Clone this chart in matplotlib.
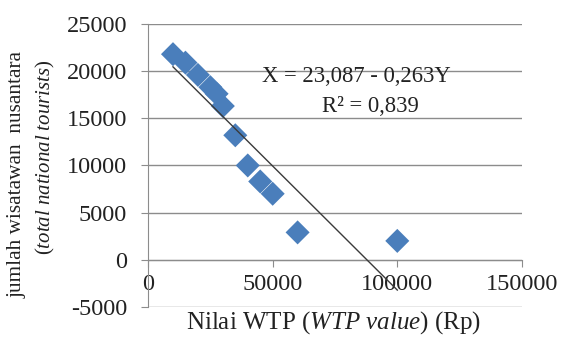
import numpy as np
import matplotlib
matplotlib.use('Agg')
import matplotlib.pyplot as plt

# data
wtp = [10000, 15000, 20000, 25000, 27500, 30000, 35000, 40000, 45000, 50000, 60000, 100000]
tourists = [21800, 20900, 19600, 18300, 17600, 16300, 13200, 10000, 8300, 7000, 2900, 2000]

intercept = 23087
slope = -0.263
x_ticks = [0, 50000, 100000, 150000]
y_ticks = [-5000, 0, 5000, 10000, 15000, 20000, 25000]

plt.rcParams['font.family'] = 'Liberation Serif'
plt.rcParams['mathtext.fontset'] = 'custom'
plt.rcParams['mathtext.rm'] = 'Liberation Serif'
plt.rcParams['mathtext.it'] = 'Liberation Serif:italic'
plt.rcParams['axes.unicode_minus'] = False

fig = plt.figure(figsize=(5.63, 3.38), dpi=100)
ax = fig.add_axes([0.263, 0.092, 0.664, 0.837])

# horizontal gridlines
for y in y_ticks:
    ax.axhline(y, color='#8c8c8c', lw=1.0, zorder=1)

# trend line
line_x = np.array([min(wtp), max(wtp)])
ax.plot(line_x, intercept + slope * line_x, color='#3a3a3a', lw=1.0, zorder=3)

ax.scatter(wtp, tourists, marker='D', s=150, color='#4a7ebb', edgecolors='none', zorder=2)

ax.set_xlim(0, 150000)
ax.set_ylim(-5000, 25000)
ax.set_xticks(x_ticks)
ax.set_yticks(y_ticks)
ax.tick_params(labelsize=17.5, colors='#8c8c8c', labelcolor='#222222', length=5)
ax.tick_params(axis='x', pad=5)
ax.tick_params(axis='y', pad=10)

for s in ['top', 'right']:
    ax.spines[s].set_visible(False)
ax.spines['bottom'].set_position(('data', 0))
ax.spines['bottom'].set_color('#8c8c8c')
ax.spines['left'].set_color('#8c8c8c')

ax.text(83500, 19400, 'X = 23,087 - 0,263Y', fontsize=16.3, ha='center', va='center', color='#222222')
ax.text(89100, 16200, 'R² = 0,839', fontsize=16.3, ha='center', va='center', color='#222222')

fig.text(0.593, 0.047, r'Nilai WTP ($\mathit{WTP\ value}$) (Rp)', fontsize=18, ha='center', va='center', color='#222222')
fig.text(0.030, 0.485, 'jumlah wisatawan  nusantara', fontsize=15.3, rotation=90, ha='center', va='center', color='#222222')
fig.text(0.080, 0.535, r'($\mathit{total\ national\ tourists}$)', fontsize=15, rotation=90, ha='center', va='center', color='#222222')

fig.savefig('out.png', dpi=100)
